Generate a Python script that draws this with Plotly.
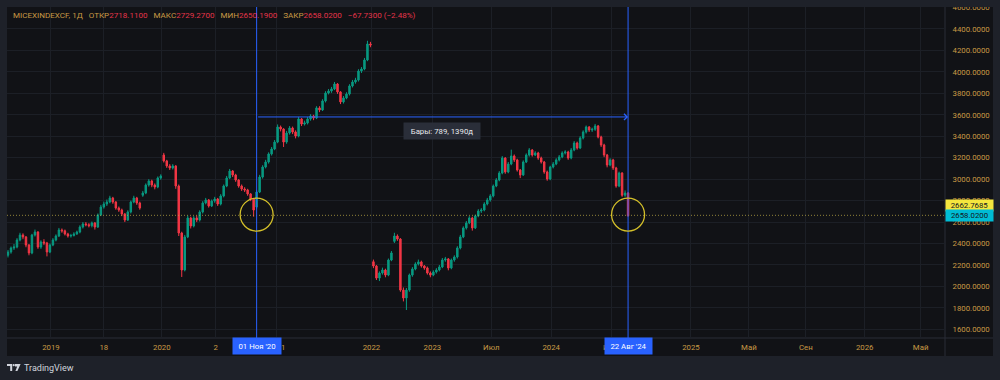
import plotly.graph_objects as go

# ---------------- data ----------------
# one candle per ~3 px of the reference (bar index = position on TradingView's bar axis)
opens = [2290, 2321, 2358, 2367, 2433, 2479, 2461, 2386, 2312, 2479, 2507, 2367, 2414, 2405, 2321, 2386, 2433, 2470, 2526, 2518,
         2489, 2470, 2475, 2489, 2507, 2554, 2582, 2575, 2566, 2591, 2554, 2666, 2740, 2768, 2787, 2824, 2787, 2731, 2712, 2675,
         2619, 2694, 2787, 2824, 2778, 2850, 2871, 2945, 2983, 2945, 2927, 3011, 3225, 3170, 3123, 3104, 3123, 2936, 2498, 2153,
         2461, 2638, 2563, 2638, 2619, 2694, 2778, 2806, 2750, 2796, 2815, 2768, 2843, 2936, 3011, 3076, 3039, 2992, 2936, 2908,
         2899, 2862, 2815, 2740, 2880, 3020, 3113, 3160, 3235, 3281, 3346, 3486, 3467, 3346, 3430, 3477, 3440, 3402, 3561, 3514,
         3524, 3561, 3589, 3570, 3664, 3645, 3729, 3803, 3822, 3841, 3887, 3813, 3720, 3757, 3794, 3869, 3906, 3924, 4008, 4027,
         4111, 4260, 2230, 2190, 2078, 2125, 2153, 2106, 2246, 2420, 2470, 2442, 1966, 1892, 1966, 2106, 2162, 2209, 2228, 2190,
         2172, 2125, 2106, 2134, 2153, 2181, 2246, 2256, 2172, 2246, 2274, 2358, 2461, 2545, 2591, 2638, 2545, 2657, 2703, 2712,
         2768, 2806, 2843, 2936, 2992, 3057, 3197, 3067, 3141, 3216, 3179, 3085, 3039, 3160, 3225, 3272, 3225, 3244, 3197, 3160,
         3067, 3001, 3113, 3141, 3179, 3207, 3244, 3253, 3197, 3272, 3337, 3290, 3384, 3440, 3486, 3458, 3465, 3496, 3393, 3318,
         3225, 3132, 3179, 3104, 2936, 3057, 2850, 2870]
highs = [2340, 2372, 2395, 2450, 2500, 2495, 2470, 2395, 2490, 2530, 2515, 2430, 2440, 2415, 2400, 2450, 2485, 2545, 2540, 2530,
         2500, 2490, 2505, 2520, 2570, 2600, 2600, 2590, 2605, 2600, 2680, 2760, 2790, 2810, 2845, 2835, 2795, 2745, 2725, 2685,
         2710, 2800, 2845, 2835, 2790, 2890, 2960, 3000, 2995, 2960, 3025, 3045, 3245, 3180, 3140, 3140, 3130, 2950, 2510, 2480,
         2660, 2650, 2655, 2660, 2710, 2795, 2825, 2815, 2810, 2835, 2825, 2860, 2950, 3030, 3095, 3085, 3050, 3000, 2950, 2925,
         2910, 2870, 2825, 2900, 3040, 3130, 3180, 3250, 3300, 3365, 3510, 3500, 3475, 3450, 3495, 3490, 3455, 3580, 3570, 3545,
         3580, 3605, 3600, 3680, 3680, 3745, 3820, 3840, 3860, 3906, 3895, 3820, 3775, 3810, 3885, 3925, 3945, 4025, 4045, 4130,
         4290, 4280, 2250, 2200, 2140, 2175, 2165, 2260, 2330, 2500, 2485, 2450, 1990, 1985, 2120, 2180, 2225, 2250, 2240, 2200,
         2185, 2140, 2150, 2170, 2200, 2265, 2275, 2265, 2260, 2290, 2375, 2480, 2560, 2610, 2655, 2650, 2670, 2720, 2730, 2785,
         2825, 2860, 2950, 3010, 3075, 3215, 3205, 3160, 3275, 3230, 3190, 3095, 3175, 3240, 3290, 3280, 3260, 3255, 3210, 3170,
         3080, 3125, 3160, 3195, 3225, 3260, 3270, 3265, 3290, 3355, 3350, 3400, 3455, 3500, 3495, 3480, 3515, 3505, 3405, 3330,
         3235, 3195, 3190, 3115, 3070, 3065, 2895, 2880]
lows = [2270, 2305, 2340, 2355, 2420, 2440, 2365, 2290, 2300, 2465, 2350, 2350, 2385, 2280, 2310, 2375, 2420, 2460, 2500, 2475,
        2455, 2455, 2465, 2480, 2495, 2540, 2560, 2550, 2550, 2530, 2545, 2655, 2725, 2750, 2775, 2770, 2715, 2695, 2655, 2600,
        2610, 2680, 2775, 2760, 2715, 2835, 2860, 2930, 2925, 2905, 2915, 2995, 3155, 3105, 3085, 3090, 2910, 2470, 2088, 2140,
        2450, 2540, 2550, 2600, 2605, 2680, 2765, 2735, 2740, 2780, 2750, 2755, 2830, 2925, 3000, 3020, 2975, 2920, 2890, 2880,
        2845, 2795, 2650, 2725, 2870, 3005, 3100, 3145, 3220, 3270, 3335, 3445, 3300, 3330, 3415, 3420, 3380, 3390, 3495, 3500,
        3510, 3545, 3550, 3560, 3625, 3635, 3715, 3790, 3805, 3830, 3795, 3700, 3705, 3745, 3780, 3855, 3890, 3910, 3990, 4015,
        4100, 4230, 2170, 2060, 2050, 2110, 2085, 2095, 2235, 2405, 2425, 1950, 1860, 1780, 1950, 2090, 2150, 2195, 2175, 2155,
        2110, 2085, 2095, 2120, 2140, 2170, 2230, 2150, 2160, 2230, 2260, 2345, 2450, 2530, 2580, 2520, 2535, 2645, 2685, 2700,
        2755, 2790, 2830, 2925, 2980, 3045, 3050, 3055, 3130, 3160, 3070, 3010, 3030, 3150, 3210, 3210, 3215, 3180, 3145, 3050,
        2985, 2990, 3100, 3130, 3165, 3195, 3230, 3180, 3185, 3260, 3275, 3280, 3370, 3425, 3440, 3440, 3450, 3380, 3300, 3205,
        3110, 3120, 3085, 2920, 2925, 2835, 2835, 2650]
closes = [2321, 2358, 2367, 2433, 2479, 2461, 2386, 2312, 2479, 2507, 2367, 2414, 2405, 2321, 2386, 2433, 2470, 2526, 2518, 2489,
          2470, 2475, 2489, 2507, 2554, 2582, 2575, 2566, 2591, 2554, 2666, 2740, 2768, 2787, 2824, 2787, 2731, 2712, 2675, 2619,
          2694, 2787, 2824, 2778, 2731, 2871, 2945, 2983, 2945, 2927, 3011, 3029, 3170, 3123, 3104, 3123, 2936, 2498, 2153, 2461,
          2638, 2563, 2638, 2619, 2694, 2778, 2806, 2750, 2796, 2815, 2768, 2843, 2936, 3011, 3076, 3039, 2992, 2936, 2908, 2899,
          2862, 2815, 2712, 2880, 3020, 3113, 3160, 3235, 3281, 3346, 3486, 3467, 3346, 3430, 3477, 3440, 3402, 3561, 3514, 3524,
          3561, 3589, 3570, 3664, 3645, 3729, 3803, 3822, 3841, 3887, 3813, 3720, 3757, 3794, 3869, 3906, 3924, 4008, 4027, 4111,
          4260, 4251, 2190, 2078, 2125, 2153, 2106, 2246, 2312, 2470, 2442, 1966, 1892, 1966, 2106, 2162, 2209, 2228, 2190, 2172,
          2125, 2106, 2134, 2153, 2181, 2246, 2256, 2172, 2246, 2274, 2358, 2461, 2545, 2591, 2638, 2545, 2657, 2703, 2712, 2768,
          2806, 2843, 2936, 2992, 3057, 3197, 3067, 3141, 3216, 3179, 3085, 3039, 3160, 3225, 3272, 3225, 3244, 3197, 3160, 3067,
          3001, 3113, 3141, 3179, 3207, 3244, 3253, 3197, 3272, 3337, 3290, 3384, 3440, 3486, 3458, 3465, 3496, 3393, 3318, 3225,
          3132, 3179, 3104, 2936, 3057, 2850, 2870, 2658]
bar_index = list(range(len(closes)))

# time axis (bar-index positions) and labels
time_tick_pos = [14.33, 32.0, 51.33, 69.33, 89.67, 121.33, 141.67, 161.33, 181.33, 201.33, 228.0, 247.33, 266.33, 286.0, 304.67]
time_tick_text = ["2019", "18", "2020", "2", "2021", "2022", "2023", "Июл", "2024", "Июл", "2025", "Май", "Сен", "2026", "Май"]

# price axis
price_ticks = [1600, 1800, 2000, 2200, 2400, 2600, 2800, 3000, 3200, 3400, 3600, 3800, 4000, 4200, 4400, 4600]
price_tick_text = [f"{v}.0000" for v in price_ticks]

# drawings / header values
symbol = "MICEXINDEXCF, 1Д"
last_open, last_high, last_low, last_close = "2718.1100", "2729.2700", "2650.1900", "2658.0200"
change_text = "−67.7300 (−2.48%)"
range_start_bar, range_end_bar = 83, 207
range_start_label, range_end_label = "01 Ноя '20", "22 Авг '24"
measure_level = 3580
measure_text = "Бары: 789, 1390д"
dotted_level = 2662.7685
last_close_value = 2658.02
circle_level = 2670

# ---------------- styling ----------------
OUTER = "#1e2129"
INNER = "#111216"
GRID = "#1c1f26"
SEP = "#2a2d36"
GOLD = "#c99a45"
RED = "#e5344a"
UP = "#089981"
DOWN = "#f23645"
BLUE = "#2962ff"
YEL = "#d4c02a"
FONT = "Roboto"
FS = 7.8

L, R, T, B = 7, 945, 7, 338
PW, PH = R - L, B - T


def pxx(px):
    return (px - L) / PW


def pxy(py):
    return (B - py) / PH


fig = go.Figure()
fig.add_trace(go.Candlestick(
    x=bar_index, open=opens, high=highs, low=lows, close=closes,
    increasing=dict(line=dict(color=UP, width=1), fillcolor=UP),
    decreasing=dict(line=dict(color=DOWN, width=1), fillcolor=DOWN),
    whiskerwidth=0, hoverinfo="skip", showlegend=False,
))

shapes = [
    # dark panel behind plot + axes
    dict(type="rect", xref="paper", yref="paper", x0=0, x1=pxx(993), y0=pxy(356), y1=1,
         fillcolor=INNER, line=dict(width=0), layer="below"),
    # separators
    dict(type="line", xref="paper", yref="paper", x0=1, x1=1, y0=pxy(356), y1=1,
         line=dict(color=SEP, width=1), layer="below"),
    dict(type="line", xref="paper", yref="paper", x0=0, x1=pxx(993), y0=0, y1=0,
         line=dict(color=SEP, width=1), layer="below"),
    # dotted level
    dict(type="line", xref="paper", yref="y", x0=0, x1=1, y0=dotted_level, y1=dotted_level,
         line=dict(color="rgba(190,170,70,0.75)", width=1, dash="1px,2px"), layer="above"),
    # vertical date-range lines
    dict(type="line", xref="x", yref="paper", x0=range_start_bar, x1=range_start_bar, y0=0, y1=1,
         line=dict(color=BLUE, width=1), layer="above"),
    dict(type="line", xref="x", yref="paper", x0=range_end_bar, x1=range_end_bar, y0=0, y1=1,
         line=dict(color=BLUE, width=1), layer="above"),
    # circles
    dict(type="circle", xref="x", yref="y", xsizemode="pixel", ysizemode="pixel",
         xanchor=range_start_bar, yanchor=circle_level, x0=-16.5, x1=16.5, y0=-16.5, y1=16.5,
         line=dict(color=YEL, width=1.3), fillcolor="rgba(0,0,0,0)", layer="above"),
    dict(type="circle", xref="x", yref="y", xsizemode="pixel", ysizemode="pixel",
         xanchor=range_end_bar, yanchor=circle_level, x0=-16.5, x1=16.5, y0=-16.5, y1=16.5,
         line=dict(color=YEL, width=1.3), fillcolor="rgba(0,0,0,0)", layer="above"),
    # clip top edge (cuts 4600 label like the reference)
    dict(type="rect", xref="paper", yref="paper", x0=-0.02, x1=1.08, y0=1, y1=pxy(-5),
         fillcolor=OUTER, line=dict(width=0), layer="above"),
]

# TradingView logo
def poly(pts):
    return "M " + " L ".join(f"{pxx(x):.5f},{pxy(y):.5f}" for x, y in pts) + " Z"

LOGO = "#d1d4dc"
shapes += [
    dict(type="path", xref="paper", yref="paper",
         path=poly([(7, 364), (12.2, 364), (12.2, 371), (10.2, 371), (10.2, 366), (7, 366)]),
         fillcolor=LOGO, line=dict(width=0)),
    dict(type="circle", xref="paper", yref="paper", x0=pxx(12.6), x1=pxx(14.8), y0=pxy(366.3), y1=pxy(364.1),
         fillcolor=LOGO, line=dict(width=0)),
    dict(type="path", xref="paper", yref="paper",
         path=poly([(15.0, 364), (20.6, 364), (17.4, 371), (15.4, 371), (17.2, 366.5), (15.0, 366.5)]),
         fillcolor=LOGO, line=dict(width=0)),
]

nb = "\u00a0"
sp = nb * 3
hdr = (f'<span style="color:{GOLD}">{symbol}{sp}ОТКР</span><span style="color:{RED}">{last_open}</span>'
       f'<span style="color:{GOLD}">{sp}МАКС</span><span style="color:{RED}">{last_high}</span>'
       f'<span style="color:{GOLD}">{sp}МИН</span><span style="color:{RED}">{last_low}</span>'
       f'<span style="color:{GOLD}">{sp}ЗАКР</span><span style="color:{RED}">{last_close}</span>'
       f'<span style="color:{RED}">{sp}{change_text}</span>')

annotations = [
    dict(text=hdr, xref="paper", yref="paper", x=pxx(11), y=pxy(16), xanchor="left", yanchor="middle",
         showarrow=False, font=dict(family=FONT, size=8.05)),
    # measure arrow
    dict(text="", xref="x", yref="y", x=range_end_bar, y=measure_level, axref="x", ayref="y",
         ax=range_start_bar, ay=measure_level, showarrow=True, arrowhead=4, arrowsize=1.2,
         arrowwidth=1, arrowcolor=BLUE, standoff=0, startstandoff=0),
    dict(text=measure_text, xref="x", yref="y", x=(range_start_bar + range_end_bar) / 2, y=measure_level,
         yshift=-14.5, showarrow=False, bgcolor="#2a2e39", width=72, height=12, borderpad=2,
         font=dict(family=FONT, size=FS, color="#e8e9ec")),
    # date boxes
    dict(text=range_start_label, xref="x", yref="paper", x=range_start_bar, y=pxy(346), yanchor="middle",
         showarrow=False, bgcolor=BLUE, width=46, height=14, borderpad=1,
         font=dict(family=FONT, size=FS, color="#ffffff")),
    dict(text=range_end_label, xref="x", yref="paper", x=range_end_bar, y=pxy(346), yanchor="middle",
         showarrow=False, bgcolor=BLUE, width=45, height=14, borderpad=1,
         font=dict(family=FONT, size=FS, color="#ffffff")),
    # price labels
    dict(text=f"{dotted_level:.4f}", xref="paper", yref="y", x=1, y=dotted_level, xanchor="left",
         yanchor="middle", yshift=10.3, showarrow=False, bgcolor="#f5e63e", width=45, height=9.4,
         borderpad=1, font=dict(family=FONT, size=FS, color="#131722")),
    dict(text=f"{last_close_value:.4f}", xref="paper", yref="y", x=1, y=last_close_value, xanchor="left",
         yanchor="middle", showarrow=False, bgcolor="#00bcd4", width=45, height=9.4,
         borderpad=1, font=dict(family=FONT, size=FS, color="#131722")),
    # logo text
    dict(text="TradingView", xref="paper", yref="paper", x=pxx(21.5), y=pxy(367.5), xanchor="left",
         yanchor="middle", showarrow=False, font=dict(family=FONT, size=9, color=LOGO)),
]

fig.update_layout(
    width=1000, height=380, autosize=False,
    margin=dict(l=L, r=1000 - R, t=T, b=380 - B, pad=0),
    paper_bgcolor=OUTER, plot_bgcolor=INNER,
    font=dict(family=FONT, size=FS, color=GOLD),
    showlegend=False, hovermode=False,
    shapes=shapes, annotations=annotations,
    xaxis=dict(range=[-0.334, 312.8], tickmode="array", tickvals=time_tick_pos, ticktext=time_tick_text,
               showgrid=True, gridcolor=GRID, gridwidth=1, zeroline=False, showline=False,
               ticks="outside", ticklen=2, tickcolor="rgba(0,0,0,0)", automargin=False,
               tickfont=dict(family=FONT, size=FS, color=GOLD),
               rangeslider=dict(visible=False), fixedrange=True),
    yaxis=dict(range=[1519, 4605], side="right", tickmode="array", tickvals=price_ticks,
               ticktext=price_tick_text, showgrid=True, gridcolor=GRID, gridwidth=1, zeroline=False,
               showline=False, ticks="outside", ticklen=5, tickcolor="rgba(0,0,0,0)", automargin=False,
               tickfont=dict(family=FONT, size=FS, color=GOLD), fixedrange=True),
)

fig.write_html("out.html", include_plotlyjs=True, config={"displayModeBar": False},
               post_script="document.body.style.margin='0';")
